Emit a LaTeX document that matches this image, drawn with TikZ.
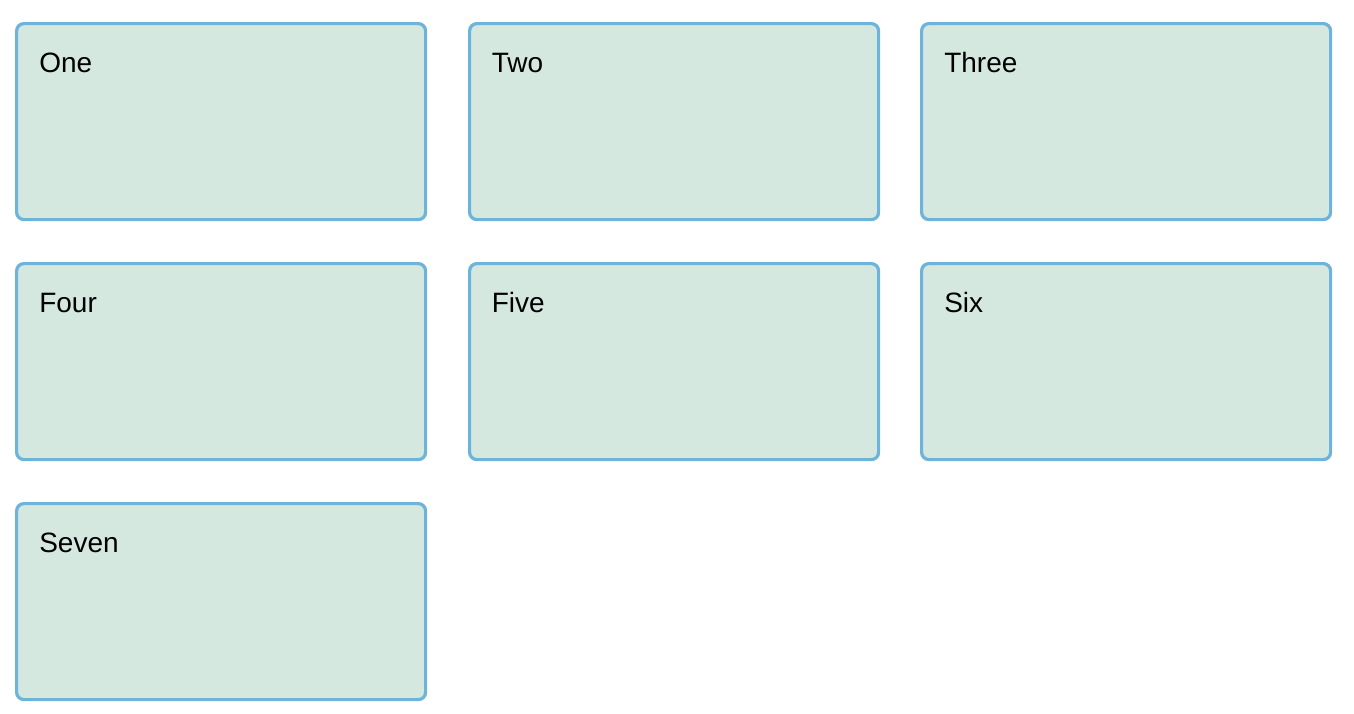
\documentclass[tikz,border=0pt]{standalone}
\usepackage{fontspec}
\setmainfont{Liberation Sans}
\definecolor{cardfill}{RGB}{213,232,224}
\definecolor{cardline}{RGB}{110,180,218}

\begin{document}
\begin{tikzpicture}[x=0.75pt,y=-0.75pt,
    card/.style={draw=cardline,line width=2.4pt,fill=cardfill,rounded corners=5.5pt,
      minimum width=306.75pt,minimum height=147pt,inner sep=0pt,anchor=north west},
    cardtext/.style={font=\fontsize{21}{25}\selectfont,anchor=base west,inner sep=0pt}]
    \useasboundingbox (0,0) rectangle (1354,714);
    \node[card] (one) at (15,22) {};
    \node[card] (two) at (468,22) {};
    \node[card] (three) at (920,22) {};
    \node[card] (four) at (15,262) {};
    \node[card] (five) at (468,262) {};
    \node[card] (six) at (920,262) {};
    \node[card] (seven) at (15,502) {};
    \node[cardtext] (one-t) at ([shift={(24,50)}]one.north west) {One};
    \node[cardtext] (two-t) at ([shift={(23.5,50)}]two.north west) {Two};
    \node[cardtext] (three-t) at ([shift={(24,50)}]three.north west) {Three};
    \node[cardtext] (four-t) at ([shift={(24,50)}]four.north west) {Four};
    \node[cardtext] (five-t) at ([shift={(23.5,50)}]five.north west) {Five};
    \node[cardtext] (six-t) at ([shift={(24,50)}]six.north west) {Six};
    \node[cardtext] (seven-t) at ([shift={(24,50)}]seven.north west) {Seven};
    \end{tikzpicture}
\end{document}
